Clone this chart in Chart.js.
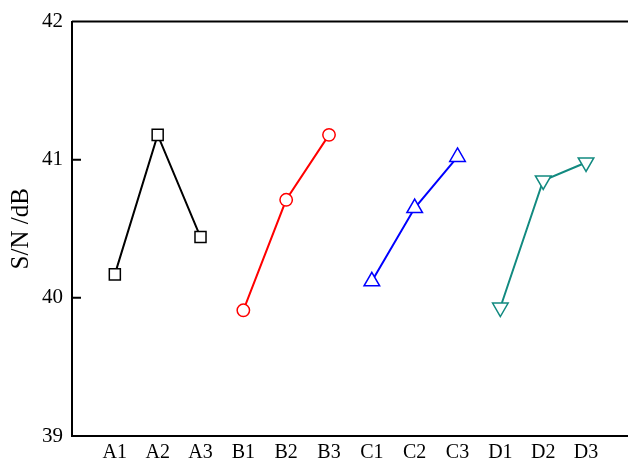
<!DOCTYPE html>
<html>
<head>
<meta charset="utf-8">
<script src="https://cdn.jsdelivr.net/npm/chart.js@4"></script>
<style>
  html, body { margin: 0; padding: 0; background: #fff; }
  #wrap { width: 628px; height: 463px; }
</style>
</head>
<body>
<div id="wrap"><canvas id="plotCanvas" width="628" height="463"></canvas></div>
<script>
// Категории и значения S/N
const labels = ["A1", "A2", "A3", "B1", "B2", "B3", "C1", "C2", "C3", "D1", "D2", "D3"];
const valsA = [40.17, 41.18, 40.44];
const valsB = [39.91, 40.71, 41.18];
const valsC = [40.12, 40.65, 41.02];
const valsD = [39.93, 40.85, 40.98];
const yTicks = [39, 40, 41, 42];

const family = "'Liberation Serif', 'Times New Roman', serif";

function pts(vals, start) {
  return vals.map((v, i) => ({ x: start + i + 1, y: v }));
}

function series(vals, start, color, style, radius, rotation) {
  return {
    data: pts(vals, start),
    borderColor: color,
    backgroundColor: "#fff",
    borderWidth: 2,
    pointStyle: style,
    pointRadius: radius,
    pointRotation: rotation || 0,
    pointBorderColor: color,
    pointBorderWidth: 1.5,
    pointBackgroundColor: "#fff",
    tension: 0,
  };
}

// рамка сверху и внутренние метки оси Y
const frame = {
  id: "frame",
  afterDraw(c) {
    const { ctx, chartArea: a, scales } = c;
    ctx.save();
    ctx.strokeStyle = "#000";
    ctx.lineWidth = 2;
    ctx.beginPath();
    ctx.moveTo(a.left, a.top);
    ctx.lineTo(a.right, a.top);
    yTicks.forEach((t) => {
      const y = scales.y.getPixelForValue(t);
      ctx.moveTo(a.left, y);
      ctx.lineTo(a.left + 9, y);
    });
    ctx.stroke();
    ctx.restore();
  },
};

new Chart(document.getElementById("plotCanvas").getContext("2d"), {
  type: "line",
  data: {
    datasets: [
      series(valsA, 0, "#000000", "rect", 7.8),
      series(valsB, 3, "#ff0000", "circle", 6.2),
      series(valsC, 6, "#0000ff", "triangle", 9),
      series(valsD, 9, "#128a80", "triangle", 9, 180),
    ],
  },
  options: {
    responsive: false,
    animation: false,
    layout: { autoPadding: false, padding: { top: 20, right: 0, left: 0, bottom: 0 } },
    plugins: { legend: { display: false }, tooltip: { enabled: false } },
    scales: {
      x: {
        type: "linear",
        min: 0,
        max: 12.98,
        afterBuildTicks: (s) => {
          s.ticks = labels.map((_, i) => ({ value: i + 1 }));
        },
        afterFit: (s) => { s.height = 27; },
        grid: { display: false, drawTicks: false },
        border: { color: "#000", width: 2 },
        ticks: {
          color: "#000",
          font: { family: family, size: 20 },
          padding: 5,
          maxRotation: 0,
          autoSkip: false,
          callback: (v) => labels[v - 1] || "",
        },
      },
      y: {
        min: 39,
        max: 42,
        afterBuildTicks: (s) => {
          s.ticks = yTicks.map((v) => ({ value: v }));
        },
        afterFit: (s) => { s.width = 72; },
        grid: { display: false, drawTicks: false },
        border: { color: "#000", width: 2 },
        ticks: { color: "#000", font: { family: family, size: 21 }, padding: 9 },
        title: {
          display: true,
          text: "S/N /dB",
          color: "#000",
          font: { family: family, size: 25 },
          padding: { top: 6, bottom: 0 },
        },
      },
    },
  },
  plugins: [frame],
});
</script>
</body>
</html>
